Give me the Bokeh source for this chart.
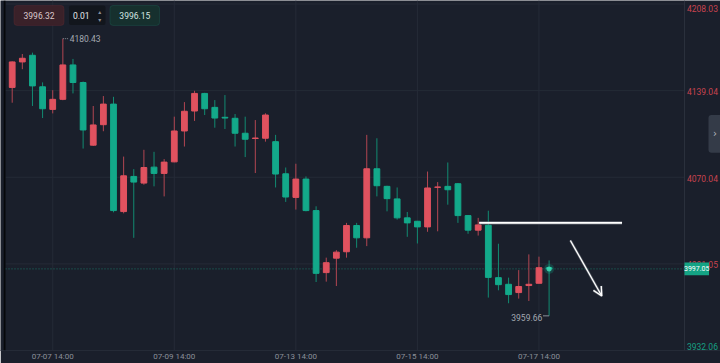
from bokeh.plotting import figure
from bokeh.models import Range1d, FixedTicker, BoxAnnotation, Label, Span, Arrow, OpenHead
from bokeh.core.properties import value
from bokeh.embed import file_html
from bokeh.resources import INLINE

# ---------------- data (4h candles) ----------------
opens = [4141.6, 4161.9, 4167.2, 4142.1, 4124.1, 4132.1, 4159.5, 4145.5, 4095.6, 4111.9,
         4128.3, 4042.7, 4070.7, 4065.4, 4078.1, 4073.1, 4082.3, 4106.9, 4122.8, 4136.8,
         4125.7, 4117.8, 4117.0, 4105.1, 4100.9, 4101.1, 4098.4, 4072.8, 4054.0, 4068.6,
         4043.5, 3994.1, 4005.6, 4010.7, 4031.6, 4021.8, 4076.8, 4062.8, 4052.8, 4037.7,
         4035.0, 4030.5, 4062.0, 4062.8, 4064.9, 4039.5, 4027.9, 4031.8, 3990.1, 3984.8,
         3978.2, 3983.8, 3985.6, 3998.0]
highs = [4162.4, 4168.2, 4169.3, 4145.6, 4139.4, 4180.43, 4164.3, 4146.3, 4126.8, 4134.7,
         4134.1, 4086.5, 4076.5, 4091.9, 4090.3, 4084.5, 4118.3, 4129.9, 4138.9, 4137.3,
         4131.5, 4135.5, 4120.4, 4118.3, 4115.6, 4121.0, 4103.8, 4077.8, 4080.8, 4070.7,
         4046.9, 4006.0, 4012.0, 4033.7, 4033.7, 4103.8, 4101.1, 4063.3, 4061.9, 4042.4,
         4035.3, 4074.6, 4066.2, 4081.8, 4065.5, 4040.0, 4037.7, 4043.4, 4017.1, 3990.1,
         3996.1, 4008.6, 4006.8, 4003.8]
lows = [4129.4, 4156.1, 4126.8, 4117.2, 4120.9, 4131.4, 4136.8, 4092.9, 4095.0, 4106.7,
        4042.1, 4041.3, 4021.8, 4064.1, 4062.8, 4054.8, 4082.0, 4094.5, 4114.9, 4119.6,
        4109.5, 4108.5, 4094.5, 4086.1, 4073.4, 4098.4, 4061.9, 4050.4, 4044.3, 4042.9,
        3986.6, 3986.9, 3983.4, 4006.0, 4013.9, 4015.2, 4054.8, 4042.9, 4036.3, 4022.6,
        4017.3, 4026.6, 4027.0, 4048.2, 4033.7, 4025.0, 4023.6, 3974.2, 3980.0, 3969.7,
        3973.4, 3971.5, 3985.5, 3959.66]
closes = [4161.9, 4164.8, 4142.8, 4124.6, 4132.1, 4159.5, 4145.5, 4107.7, 4111.7, 4128.3,
          4043.5, 4071.2, 4066.2, 4077.8, 4073.1, 4082.1, 4106.9, 4122.6, 4136.8, 4124.6,
          4117.2, 4117.2, 4105.1, 4100.3, 4101.3, 4119.6, 4072.6, 4054.3, 4068.6, 4043.5,
          3993.5, 4002.0, 4010.4, 4031.6, 4021.8, 4076.8, 4063.3, 4053.0, 4037.7, 4033.7,
          4030.5, 4061.5, 4062.3, 4060.1, 4039.5, 4027.9, 4032.1, 3990.3, 3984.5, 3976.6,
          3983.0, 3984.8, 3998.0, 3997.05]
idx = list(range(len(opens)))

tick_idx = [4, 16, 28, 40, 52]
tick_labels = ["07-07 14:00", "07-09 14:00", "07-13 14:00", "07-15 14:00", "07-17 14:00"]
price_ticks = [4208.03, 4139.04, 4070.04, 4001.05, 3932.06]
last_price = 3997.05
hi_mark_idx, hi_mark_val = 5, 4180.43
lo_mark_idx, lo_mark_val = 53, 3959.66
trend_x = [46.1, 60.2]
trend_y = [4033.7, 4033.7]
arrow_x = [55.1, 58.2]
arrow_y = [4019.7, 3975.5]
ui_values = ["3996.32", "0.01", "3996.15"]

# ---------------- styles ----------------
BG = "#1a1f2b"
GRID = "#252b37"
UP = "#e0525f"
DOWN = "#13a98a"
UP_WICK = "#b24652"
DOWN_WICK = "#128a71"
FONT = "Roboto"

W, H = 720, 363
X0, X1 = -1.155, 69.92
Y0, Y1 = 3932.06, 4210.82
FRAME_H = 351.5


def px2x(px):
    return X0 + px * (X1 - X0) / W


def py2y(py):
    return Y1 - py * (Y1 - Y0) / FRAME_H


PXY = (Y1 - Y0) / FRAME_H

p = figure(width=W, height=H, x_range=Range1d(X0, X1), y_range=Range1d(Y0, Y1),
           output_backend="svg", toolbar_location=None, y_axis_location=None,
           min_border=0, background_fill_color=BG, border_fill_color=BG,
           outline_line_color=None)
p.xgrid.visible = False
p.ygrid.visible = False

ax = p.xaxis[0]
ax.ticker = FixedTicker(ticks=tick_idx)
ax.major_label_overrides = {t: l for t, l in zip(tick_idx, tick_labels)}
ax.axis_line_color = GRID
ax.major_tick_line_color = None
ax.minor_tick_line_color = None
ax.major_tick_out = 0
ax.major_tick_in = 0
ax.major_label_standoff = 1
ax.major_label_text_font = FONT
ax.major_label_text_font_size = "8px"
ax.major_label_text_color = "#8a8f99"

# grid
gx_l, gx_r = px2x(5), px2x(684)
p.segment(x0=[gx_l] * len(price_ticks), y0=price_ticks, x1=[gx_r] * len(price_ticks), y1=price_ticks,
          line_color=GRID, line_width=1)
p.segment(x0=tick_idx, y0=[Y0] * len(tick_idx), x1=tick_idx, y1=[Y1] * len(tick_idx),
          line_color=GRID, line_width=1)

# current price dotted line
p.segment(x0=[gx_l], y0=[last_price], x1=[gx_r], y1=[last_price],
          line_color="#1d7565", line_width=1, line_dash="1 2")

# candles
up = [c >= o for o, c in zip(opens, closes)]
for flag, col, wcol in [(True, UP, UP_WICK), (False, DOWN, DOWN_WICK)]:
    xs = [i for i, u in zip(idx, up) if u == flag]
    hs = [highs[i] for i in xs]
    ls = [lows[i] for i in xs]
    tops = [max(opens[i], closes[i]) for i in xs]
    bots = [min(opens[i], closes[i]) for i in xs]
    p.segment(x0=xs, y0=hs, x1=xs, y1=ls, line_color=wcol, line_width=1)
    p.vbar(x=xs, width=0.57, top=tops, bottom=bots, fill_color=col, line_color=col, line_width=1)

# glow on last candle
p.scatter(x=[idx[-1]], y=[closes[-1]], size=10, fill_color=DOWN, fill_alpha=0.25, line_color=None)
p.scatter(x=[idx[-1]], y=[closes[-1]], size=5, fill_color="#3fe0b8", fill_alpha=0.8, line_color=None)

# high / low marks
p.segment(x0=[hi_mark_idx], y0=[hi_mark_val], x1=[hi_mark_idx + 0.6], y1=[hi_mark_val],
          line_color="#8a8f99", line_width=1, line_dash="1 1")
p.text(x=[hi_mark_idx + 0.68], y=[hi_mark_val], text=[f"{hi_mark_val:.2f}"],
       text_font=value(FONT), text_font_size="8.5px", text_color="#a3a8b0",
       text_align="left", text_baseline="middle")
p.segment(x0=[lo_mark_idx - 0.6], y0=[lo_mark_val], x1=[lo_mark_idx], y1=[lo_mark_val],
          line_color="#8a8f99", line_width=1)
p.text(x=[lo_mark_idx - 0.68], y=[lo_mark_val], text=[f"{lo_mark_val:.2f}"],
       text_font=value(FONT), text_font_size="8.5px", text_color="#a3a8b0",
       text_align="right", text_baseline="middle", y_offset=1.5)

# right price labels
lab_x = px2x(686.5)
p.text(x=[lab_x], y=[price_ticks[0]], text=[f"{price_ticks[0]:.2f}"], text_font=value(FONT),
       text_font_size="8.5px", text_color="#c8434f", text_align="left", text_baseline="top", y_offset=1)
mid = price_ticks[1:-1]
p.text(x=[lab_x] * len(mid), y=mid, text=[f"{v:.2f}" for v in mid], text_font=value(FONT),
       text_font_size="8.5px", text_color="#c8434f", text_align="left", text_baseline="middle", y_offset=1)
p.text(x=[lab_x], y=[price_ticks[-1]], text=[f"{price_ticks[-1]:.2f}"], text_font=value(FONT),
       text_font_size="8.5px", text_color="#17a083", text_align="left", text_baseline="bottom", y_offset=-1)

# plot right border
p.add_layout(Span(location=px2x(684), dimension="height", line_color="#2a303c", line_width=1))
# left dark strip
p.add_layout(BoxAnnotation(left=px2x(3.2), right=px2x(5.0), fill_color="#06080b", fill_alpha=1,
                           line_color=None))

# trend line and arrow (drawn annotations)
p.line(x=trend_x, y=trend_y, line_color="#7d828b", line_width=3.2, line_alpha=0.7)
p.line(x=trend_x, y=trend_y, line_color="#ffffff", line_width=1.6)
p.add_layout(Arrow(end=OpenHead(size=9, line_color="#7d828b", line_width=2.6, line_alpha=0.6),
                   x_start=arrow_x[0], y_start=arrow_y[0], x_end=arrow_x[1], y_end=arrow_y[1],
                   line_color="#7d828b", line_width=2.6, line_alpha=0.6))
p.add_layout(Arrow(end=OpenHead(size=9, line_color="#ffffff", line_width=1.3),
                   x_start=arrow_x[0], y_start=arrow_y[0], x_end=arrow_x[1], y_end=arrow_y[1],
                   line_color="#ffffff", line_width=1.3))

# current price box
p.add_layout(BoxAnnotation(left=px2x(684), right=px2x(708.5),
                           top=last_price + 6.5 * PXY, bottom=last_price - 6.5 * PXY,
                           fill_color="#14a384", fill_alpha=1, line_color=None))
p.add_layout(Label(x=px2x(696.2), y=last_price, text=f"{last_price:.2f}", text_font=FONT,
                   text_font_size="7px", text_color="#ffffff", text_align="center",
                   text_baseline="middle"))

# right collapse tab
p.add_layout(BoxAnnotation(left=px2x(708), right=px2x(724), top=py2y(115), bottom=py2y(153),
                           fill_color="#343b48", fill_alpha=1, line_color=None, border_radius=3))
p.add_layout(Label(x=px2x(714.5), y=py2y(134), text="›", text_font="DejaVu Sans",
                   text_font_size="10px", text_color="#b4b9c1", text_align="center",
                   text_baseline="middle"))

# top-left order boxes
p.add_layout(BoxAnnotation(left=px2x(13.5), right=px2x(63.5), top=py2y(5), bottom=py2y(25),
                           fill_color="#3a2129", fill_alpha=1, line_color="#6e2d38", line_width=1,
                           border_radius=3))
p.add_layout(Label(x=px2x(38.5), y=py2y(15), text=ui_values[0], text_font=FONT,
                   text_font_size="8.5px", text_color="#dcc9cd", text_align="center",
                   text_baseline="middle"))
p.add_layout(BoxAnnotation(left=px2x(68.5), right=px2x(105), top=py2y(5), bottom=py2y(24.5),
                           fill_color="#12161d", fill_alpha=1, line_color=None, border_radius=2))
p.add_layout(Label(x=px2x(80.8), y=py2y(14.8), text=ui_values[1], text_font=FONT,
                   text_font_size="8.5px", text_color="#e6e8eb", text_align="center",
                   text_baseline="middle"))
p.add_layout(Label(x=px2x(99.3), y=py2y(10.7), text="▴", text_font="DejaVu Sans",
                   text_font_size="6px", text_color="#8a909a", text_align="center",
                   text_baseline="middle"))
p.add_layout(Label(x=px2x(99.3), y=py2y(19.3), text="▾", text_font="DejaVu Sans",
                   text_font_size="6px", text_color="#8a909a", text_align="center",
                   text_baseline="middle"))
p.add_layout(BoxAnnotation(left=px2x(109.5), right=px2x(159), top=py2y(5), bottom=py2y(25),
                           fill_color="#16302e", fill_alpha=1, line_color="#1f6e5e", line_width=1,
                           border_radius=3))
p.add_layout(Label(x=px2x(134.3), y=py2y(15), text=ui_values[2], text_font=FONT,
                   text_font_size="8.5px", text_color="#d3e6e1", text_align="center",
                   text_baseline="middle"))

open("out.html", "w").write(file_html(p, INLINE))
